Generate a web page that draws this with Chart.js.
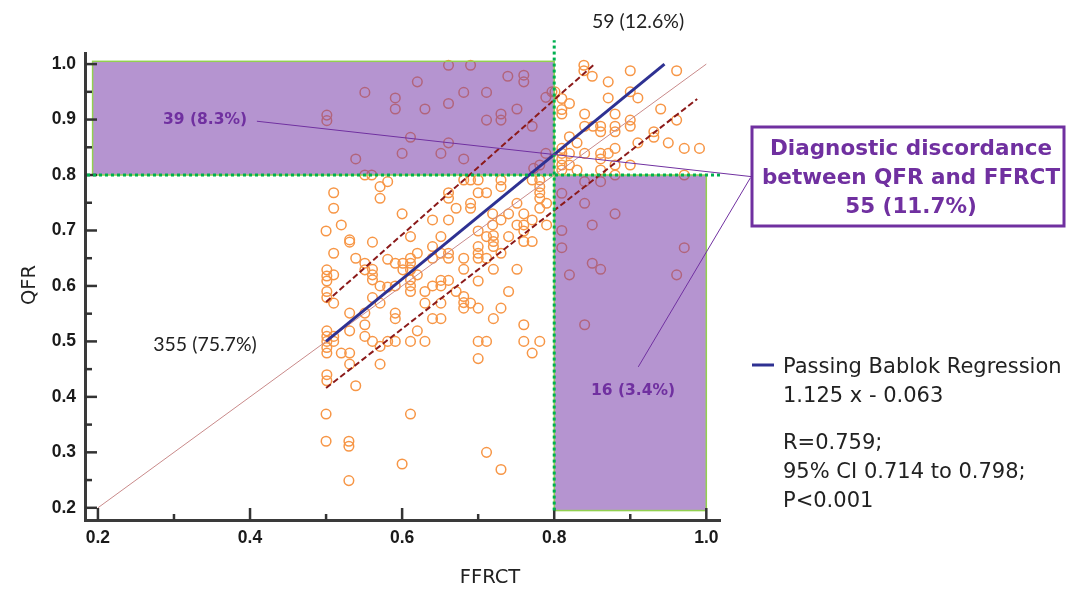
<!DOCTYPE html>
<html>
<head>
<meta charset="utf-8">
<script src="https://cdn.jsdelivr.net/npm/chart.js@4.4.1/dist/chart.umd.min.js"></script>
<style>
  html, body { margin: 0; padding: 0; background: #fff; }
  canvas { display: block; }
</style>
</head>
<body>
<canvas id="qfrChart" width="1067" height="596"></canvas>
<script>
// points are [FFRCT, QFR]
// lower-left: concordant, both <= 0.8
const concordLow = [
  [0.551,0.800],[0.560,0.800],[0.571,0.779],[0.581,0.788],[0.571,0.758],[0.510,0.768],[0.510,0.740],[0.520,0.710],
  [0.500,0.699],[0.600,0.730],[0.640,0.719],[0.661,0.768],[0.661,0.758],[0.661,0.719],[0.671,0.740],[0.681,0.791],
  [0.690,0.791],[0.690,0.749],[0.690,0.740],[0.700,0.791],[0.700,0.768],[0.711,0.768],[0.730,0.791],[0.730,0.779],
  [0.719,0.730],[0.730,0.719],[0.740,0.730],[0.751,0.749],[0.760,0.730],[0.771,0.791],[0.781,0.791],[0.781,0.779],
  [0.781,0.768],[0.781,0.758],[0.790,0.749],[0.781,0.740],[0.771,0.719],[0.751,0.710],[0.719,0.710],[0.651,0.689],
  [0.611,0.689],[0.531,0.683],[0.700,0.699],[0.711,0.689],[0.740,0.689],[0.760,0.699],[0.790,0.710],
  [0.531,0.679],[0.561,0.679],[0.510,0.659],[0.539,0.650],[0.551,0.641],[0.551,0.629],[0.561,0.630],[0.561,0.620],
  [0.561,0.611],[0.571,0.600],[0.501,0.629],[0.501,0.618],[0.501,0.609],[0.501,0.590],[0.510,0.620],[0.510,0.569],
  [0.501,0.579],[0.581,0.648],[0.591,0.641],[0.601,0.641],[0.601,0.629],[0.611,0.650],[0.611,0.641],[0.611,0.629],
  [0.611,0.611],[0.611,0.600],[0.611,0.590],[0.620,0.659],[0.620,0.620],[0.591,0.600],[0.571,0.569],[0.561,0.579],
  [0.551,0.551],[0.551,0.530],[0.551,0.509],[0.531,0.551],[0.531,0.519],[0.591,0.551],[0.591,0.541],[0.571,0.491],
  [0.561,0.500],[0.581,0.500],[0.591,0.500],[0.611,0.500],[0.630,0.500],[0.620,0.519],[0.501,0.519],[0.501,0.509],
  [0.501,0.500],[0.501,0.489],[0.501,0.479],[0.510,0.509],[0.510,0.500],[0.520,0.479],[0.531,0.479],[0.531,0.459],
  [0.571,0.459],[0.501,0.440],[0.501,0.429],[0.539,0.420],[0.630,0.590],[0.630,0.569],[0.640,0.600],[0.651,0.610],
  [0.651,0.600],[0.661,0.610],[0.651,0.569],[0.640,0.541],[0.651,0.541],[0.671,0.590],[0.681,0.581],[0.681,0.570],
  [0.681,0.560],[0.690,0.569],[0.700,0.560],[0.700,0.609],[0.730,0.560],[0.720,0.541],[0.740,0.590],[0.700,0.500],
  [0.711,0.500],[0.700,0.469],[0.760,0.530],[0.760,0.500],[0.781,0.500],[0.771,0.479],[0.751,0.630],[0.720,0.630],
  [0.681,0.650],[0.681,0.630],[0.661,0.659],[0.661,0.650],[0.700,0.671],[0.700,0.659],[0.700,0.650],[0.711,0.650],
  [0.720,0.671],[0.720,0.680],[0.720,0.691],[0.730,0.659],[0.760,0.710],[0.771,0.680],[0.760,0.680],[0.640,0.671],
  [0.640,0.650],[0.651,0.659],[0.581,0.598],
  [0.500,0.369],[0.500,0.320],[0.611,0.369],[0.530,0.320],[0.530,0.311],[0.600,0.279],[0.530,0.249],[0.711,0.300],
  [0.730,0.269]
];
// upper-left: QFR > 0.8, FFRCT <= 0.8
const discordTop = [
  [0.661,0.998],[0.690,0.998],[0.739,0.978],[0.760,0.980],[0.760,0.968],[0.620,0.968],[0.551,0.949],[0.591,0.939],
  [0.591,0.919],[0.681,0.949],[0.711,0.949],[0.661,0.929],[0.630,0.919],[0.751,0.919],[0.501,0.908],[0.501,0.898],
  [0.730,0.910],[0.730,0.899],[0.711,0.899],[0.771,0.888],[0.611,0.868],[0.661,0.858],[0.789,0.940],[0.789,0.839],
  [0.539,0.829],[0.600,0.839],[0.651,0.839],[0.681,0.829],[0.773,0.812],[0.781,0.818],[0.797,0.950]
];
// upper-right: both > 0.8
const concordHigh = [
  [0.839,0.998],[0.839,0.988],[0.850,0.978],[0.900,0.988],[0.961,0.988],[0.871,0.968],[0.900,0.950],[0.801,0.950],
  [0.810,0.938],[0.820,0.929],[0.810,0.918],[0.810,0.910],[0.871,0.939],[0.910,0.939],[0.940,0.919],[0.840,0.910],
  [0.880,0.910],[0.840,0.888],[0.851,0.888],[0.861,0.888],[0.861,0.878],[0.880,0.888],[0.880,0.878],[0.900,0.899],
  [0.900,0.888],[0.961,0.899],[0.931,0.878],[0.931,0.868],[0.910,0.858],[0.950,0.858],[0.971,0.848],[0.991,0.848],
  [0.820,0.869],[0.830,0.858],[0.840,0.839],[0.861,0.839],[0.861,0.829],[0.871,0.839],[0.880,0.848],[0.810,0.848],
  [0.810,0.839],[0.810,0.829],[0.810,0.818],[0.810,0.809],[0.820,0.839],[0.820,0.818],[0.830,0.809],[0.861,0.809],
  [0.880,0.818],[0.900,0.818],[0.880,0.800],[0.971,0.800]
];
// lower-right: FFRCT > 0.8, QFR <= 0.8
const discordRight = [
  [0.840,0.788],[0.861,0.788],[0.840,0.749],[0.880,0.730],[0.850,0.710],[0.810,0.700],[0.810,0.767],[0.810,0.669],
  [0.850,0.641],[0.861,0.630],[0.820,0.620],[0.971,0.669],[0.961,0.620],[0.840,0.530]
];

// lines (end points)
const identityX = [0.2, 1.0], identityY = [0.2, 1.0];
const regX = [0.5, 0.945], regY = [0.5, 1.0];
const ciUpX = [0.5, 0.853], ciUpY = [0.571, 1.0];
const ciLowX = [0.5, 0.988], ciLowY = [0.416, 0.937];

// shaded discordance areas
const tlRectX = [0.193, 0.8], tlRectY = [0.8, 1.005];
const brRectX = [0.8, 1.0], brRectY = [0.195, 0.8];
const cutoff = 0.8;

// axis ticks
const xTickVals = [0.2, 0.4, 0.6, 0.8, 1.0];
const xMinorVals = [0.3, 0.5, 0.7, 0.9];
const yTickVals = [0.2, 0.3, 0.4, 0.5, 0.6, 0.7, 0.8, 0.9, 1.0];
const yMinorVals = [0.25, 0.35, 0.45, 0.55, 0.65, 0.75, 0.85, 0.95];

// annotation leader lines [x0,y0,x1,y1] in data units
const leader1 = [0.409, 0.897, 1.06, 0.797];
const leader2 = [0.9105, 0.454, 1.058, 0.795];

const PURPLE = '#7030a0';

function toXY(xs, ys) { return xs.map((v, i) => ({ x: v, y: ys[i] })); }

const allPts = concordLow.concat(discordTop, concordHigh, discordRight).map(p => ({ x: p[0], y: p[1] }));

function lineSet(xs, ys, color, width, dash) {
  return {
    type: 'line', data: toXY(xs, ys), borderColor: color, borderWidth: width,
    borderDash: dash || [], pointRadius: 0, fill: false, showLine: true
  };
}

function txt(ctx, s, x, y, font, color, align) {
  ctx.font = font;
  ctx.fillStyle = color;
  ctx.textAlign = align || 'center';
  ctx.textBaseline = 'middle';
  ctx.fillText(s, x, y);
}

const overlay = {
  id: 'overlay',
  afterDatasetDraw(chart, args) {
    if (args.index !== chart.data.datasets.length - 1) return; // right after the circles
    const { ctx, scales: { x, y } } = chart;
    ctx.save();
    ctx.fillStyle = 'rgba(120,60,170,0.55)';
    [[tlRectX, tlRectY], [brRectX, brRectY]].forEach(([rx, ry]) => {
      const x0 = x.getPixelForValue(rx[0]), x1 = x.getPixelForValue(rx[1]);
      const y0 = y.getPixelForValue(ry[1]), y1 = y.getPixelForValue(ry[0]);
      ctx.fillRect(x0, y0, x1 - x0, y1 - y0);
      ctx.strokeStyle = '#92d050';
      ctx.lineWidth = 1.5;
      ctx.strokeRect(x0, y0, x1 - x0, y1 - y0);
    });
    ctx.restore();
  },
  afterDraw(chart) {
    const { ctx, scales: { x, y } } = chart;
    ctx.save();
    // inside tick marks
    ctx.strokeStyle = '#333';
    ctx.lineWidth = 2.5;
    const bot = y.getPixelForValue(y.min), left = x.getPixelForValue(x.min);
    const mark = (x0, y0, x1, y1) => { ctx.beginPath(); ctx.moveTo(x0, y0); ctx.lineTo(x1, y1); ctx.stroke(); };
    xTickVals.forEach(v => { const px = x.getPixelForValue(v); mark(px, bot, px, bot - 12); });
    xMinorVals.forEach(v => { const px = x.getPixelForValue(v); mark(px, bot, px, bot - 6); });
    yTickVals.forEach(v => { const py = y.getPixelForValue(v); mark(left, py, left + 12, py); });
    yMinorVals.forEach(v => { const py = y.getPixelForValue(v); mark(left, py, left + 7, py); });

    // green dotted cut-off lines
    ctx.strokeStyle = '#00b050';
    ctx.lineWidth = 3;
    ctx.setLineDash([3, 3]);
    const cy = y.getPixelForValue(cutoff), cx = x.getPixelForValue(cutoff);
    mark(left + 2, cy, x.getPixelForValue(1.018), cy);
    mark(cx, y.getPixelForValue(brRectY[0]), cx, y.getPixelForValue(1.043));
    ctx.setLineDash([]);

    // leader lines
    ctx.strokeStyle = PURPLE;
    ctx.lineWidth = 1;
    [leader1, leader2].forEach(l => mark(x.getPixelForValue(l[0]), y.getPixelForValue(l[1]),
                                         x.getPixelForValue(l[2]), y.getPixelForValue(l[3])));

    // counts
    txt(ctx, '59 (12.6%)', 638, 22, '19.5px Lato', '#222');
    txt(ctx, '355 (75.7%)', 205, 345, '19.5px Lato', '#222');
    txt(ctx, '39 (8.3%)', 205, 120, 'bold 15.5px "DejaVu Sans"', PURPLE);
    txt(ctx, '16 (3.4%)', 633, 391, 'bold 15.5px "DejaVu Sans"', PURPLE);

    // discordance box
    ctx.strokeStyle = PURPLE;
    ctx.lineWidth = 3;
    ctx.strokeRect(752, 127, 312, 99);
    const bf = 'bold 21.5px "DejaVu Sans"';
    txt(ctx, 'Diagnostic discordance', 911, 149, bf, PURPLE);
    txt(ctx, 'between QFR and FFRCT', 911, 178, bf, PURPLE);
    txt(ctx, '55 (11.7%)', 911, 207, bf, PURPLE);

    // legend + stats
    ctx.strokeStyle = '#2e3192';
    ctx.lineWidth = 3;
    mark(752, 365, 774, 365);
    const lf = '21px "DejaVu Sans"';
    txt(ctx, 'Passing Bablok Regression', 783, 368, lf, '#222', 'left');
    txt(ctx, '1.125 x - 0.063', 783, 397, lf, '#222', 'left');
    txt(ctx, 'R=0.759;', 783, 444, lf, '#222', 'left');
    txt(ctx, '95% CI 0.714 to 0.798;', 783, 473, lf, '#222', 'left');
    txt(ctx, 'P<0.001', 783, 502, lf, '#222', 'left');

    // axis titles
    txt(ctx, 'FFRCT', 490, 578, '19.5px "DejaVu Sans"', '#222');
    ctx.translate(30, 285);
    ctx.rotate(-Math.PI / 2);
    txt(ctx, 'QFR', 0, 0, '19.5px "DejaVu Sans"', '#222');
    ctx.restore();
  }
};

const tickFont = { family: 'Liberation Sans', weight: 'bold', size: 17.5 };

new Chart(document.getElementById('qfrChart'), {
  type: 'scatter',
  data: {
    datasets: [
      lineSet(regX, regY, '#2e3192', 3),
      lineSet(ciUpX, ciUpY, '#8b1a1a', 2, [6, 3]),
      lineSet(ciLowX, ciLowY, '#8b1a1a', 2, [6, 3]),
      lineSet(identityX, identityY, '#c98a8a', 1),
      {
        data: allPts, pointRadius: 4.8, pointBorderWidth: 1.5,
        pointBackgroundColor: 'rgba(0,0,0,0)', pointBorderColor: '#f79646'
      }
    ]
  },
  options: {
    responsive: false,
    devicePixelRatio: 1,
    animation: false,
    layout: { padding: { left: 0, top: 53, right: 347, bottom: 0 } },
    plugins: { legend: { display: false }, tooltip: { enabled: false } },
    scales: {
      x: {
        type: 'linear', min: 0.183, max: 1.018,
        grid: { display: false, drawTicks: false },
        border: { color: '#3a3a3a', width: 3 },
        afterBuildTicks: s => { s.ticks = xTickVals.map(v => ({ value: v })); },
        afterFit: s => { s.height = 76; },
        ticks: { padding: 8, color: '#1a1a1a', font: tickFont, callback: v => v.toFixed(1) }
      },
      y: {
        type: 'linear', min: 0.178, max: 1.02,
        grid: { display: false, drawTicks: false },
        border: { color: '#3a3a3a', width: 3 },
        afterBuildTicks: s => { s.ticks = yTickVals.map(v => ({ value: v })); },
        afterFit: s => { s.width = 85; },
        ticks: { padding: 9, color: '#1a1a1a', font: tickFont, callback: v => v.toFixed(1) }
      }
    }
  },
  plugins: [overlay]
});
</script>
</body>
</html>
